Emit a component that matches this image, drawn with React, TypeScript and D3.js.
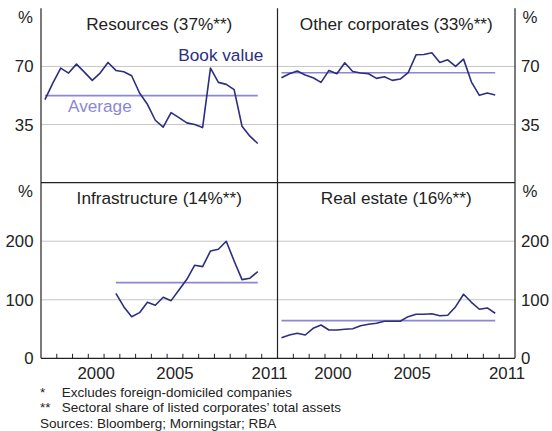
import React from "react";
import * as d3 from "d3";

// Semi-annual observations, first period mid-1997 (H1) through 2010 (H2)
const resources = [50, 60, 69, 66, 71.4, 66.6, 61.6, 66, 72.4, 67.6, 66.8, 64.4, 54, 47.2, 37.6, 33.4, 42.2, 39.2, 36, 35, 33.2, 69, 60.4, 59.2, 56, 34, 28, 23.6];
const otherCorporates = [63.2, 65.6, 67.2, 64.8, 63.2, 60.4, 67.6, 65.6, 72.2, 67, 66, 65.6, 62.8, 63.8, 61.6, 62.4, 66.2, 77, 77.2, 78.2, 72.4, 74, 70, 74.4, 60.6, 52.6, 54, 52.8];
const infrastructure = [111, 88.2, 71.1, 78, 95.7, 90.6, 104.3, 98.5, 116.8, 135, 159, 156.6, 183.4, 186.3, 200, 166.3, 134.4, 136.8, 148];
const realEstate = [35.2, 39.8, 42.7, 39.8, 51.3, 56.9, 48.4, 48.4, 49.6, 50.6, 55.7, 58.1, 59.8, 63.2, 63.2, 63.2, 71.1, 75.2, 75.2, 76.2, 72.8, 73.5, 88.2, 109.4, 95.7, 83.8, 86, 76.9];

const averages = [52.4, 66.2, 129.3, 64.3];
const startYears = [1997.25, 1997.25, 2001.75, 1997.25];
const panelTitles = ["Resources (37%**)", "Other corporates (33%**)", "Infrastructure (14%**)", "Real estate (16%**)"];
const topTicks = [35, 70];
const bottomTicks = [100, 200];
const yearLabels = [2000, 2005, 2011];
const footnotes = ["*", "**", ""];
const footnoteTexts = ["Excludes foreign-domiciled companies", "Sectoral share of listed corporates\u2019 total assets", "Sources: Bloomberg; Morningstar; RBA"];

const NAVY = "#2c2e7e";
const LAV = "#8b87d4";
const GRID = "#c6c6c6";
const FRAME = "#222";
const FONT = "'Liberation Sans', Arial, Helvetica, sans-serif";
const FS = 17.2;
const FT = 16.8;

export default function App() {
  const L = 41, M = 277.5, R = 515;
  const T = 8.3, D = 182.7, B = 358.3;
  const xLeft = d3.scaleLinear().domain([1997, 2012]).range([L, M]);
  const xRight = d3.scaleLinear().domain([1997, 2012]).range([M, R]);
  const yTop = d3.scaleLinear().domain([0, 105]).range([D, T]);
  const yBot = d3.scaleLinear().domain([0, 300]).range([B, D]);

  const series = [resources, otherCorporates, infrastructure, realEstate];
  const xs = [xLeft, xRight, xLeft, xRight];
  const ys = [yTop, yTop, yBot, yBot];

  const panels = series.map((vals, i) => {
    const x = xs[i], y = ys[i];
    const pts = vals.map((v, j) => [startYears[i] + j * 0.5, v] as [number, number]);
    const line = d3.line<[number, number]>().x(d => x(d[0])).y(d => y(d[1]));
    const t0 = pts[0][0], t1 = pts[pts.length - 1][0];
    const cx = (x.range()[0] + x.range()[1]) / 2;
    const titleY = i < 2 ? 29.5 : 204;
    return (
      <g key={i}>
        <line x1={x(t0)} x2={x(t1)} y1={y(averages[i])} y2={y(averages[i])} stroke={LAV} strokeWidth={1.6} />
        <path d={line(pts) || ""} fill="none" stroke={NAVY} strokeWidth={1.6} strokeLinejoin="round" />
        <text x={cx} y={titleY} textAnchor="middle" fontSize={FS} fill="#222">{panelTitles[i]}</text>
      </g>
    );
  });

  const years = d3.range(1998, 2012);

  return (
    <svg width={552} height={431} style={{ position: "absolute", left: 0, top: 0, background: "#fff" }} fontFamily={FONT}>
      <rect width={552} height={431} fill="#fff" />
      {topTicks.map(t => (
        <line key={"gt" + t} x1={L} x2={R} y1={yTop(t)} y2={yTop(t)} stroke={GRID} strokeWidth={1} />
      ))}
      {bottomTicks.map(t => (
        <line key={"gb" + t} x1={L} x2={R} y1={yBot(t)} y2={yBot(t)} stroke={GRID} strokeWidth={1} />
      ))}
      {panels}
      <line x1={L} x2={L} y1={T} y2={B} stroke={FRAME} strokeWidth={1.2} />
      <line x1={M} x2={M} y1={T} y2={B} stroke={FRAME} strokeWidth={1.2} />
      <line x1={R} x2={R} y1={T} y2={B} stroke={FRAME} strokeWidth={1.2} />
      <line x1={L} x2={R} y1={D} y2={D} stroke={FRAME} strokeWidth={1.2} />
      <line x1={L} x2={R} y1={B} y2={B} stroke={FRAME} strokeWidth={1.2} />
      {[xLeft, xRight].map((x, k) =>
        years.map(yr => (
          <line key={k + "-" + yr} x1={x(yr)} x2={x(yr)} y1={B} y2={B - 4.5} stroke={FRAME} strokeWidth={1} />
        ))
      )}
      {[xLeft, xRight].map((x, k) =>
        yearLabels.map(yr => (
          <text key={"yl" + k + yr} x={x(yr + 0.5)} y={379} textAnchor="middle" fontSize={FT} fill="#222">{yr}</text>
        ))
      )}
      {topTicks.map(t => (
        <g key={"lt" + t}>
          <text x={33.5} y={yTop(t)} dy="0.36em" textAnchor="end" fontSize={FT} fill="#222">{t}</text>
          <text x={521} y={yTop(t)} dy="0.36em" textAnchor="start" fontSize={FT} fill="#222">{t}</text>
        </g>
      ))}
      {[0, ...bottomTicks].map(t => (
        <g key={"lb" + t}>
          <text x={33.5} y={yBot(t)} dy="0.36em" textAnchor="end" fontSize={FT} fill="#222">{t}</text>
          <text x={521} y={yBot(t)} dy="0.36em" textAnchor="start" fontSize={FT} fill="#222">{t}</text>
        </g>
      ))}
      {[22.7, 196.7].map((yy, k) => (
        <g key={"pc" + k}>
          <text x={33} y={yy} textAnchor="end" fontSize={FT} fill="#222">%</text>
          <text x={522.5} y={yy} textAnchor="start" fontSize={FT} fill="#222">%</text>
        </g>
      ))}
      <text x={178.3} y={60.5} fontSize={FS} fill={NAVY}>Book value</text>
      <text x={68} y={112} fontSize={FS} fill={LAV}>Average</text>
      {footnoteTexts.map((f, i) => (
        <g key={"fn" + i}>
          {footnotes[i] && <text x={40} y={396.5 + i * 15.8} fontSize={13.5} fill="#222">{footnotes[i]}</text>}
          <text x={footnotes[i] ? 61.7 : 40} y={396.5 + i * 15.8} fontSize={13.5} fill="#222">{f}</text>
        </g>
      ))}
    </svg>
  );
}
